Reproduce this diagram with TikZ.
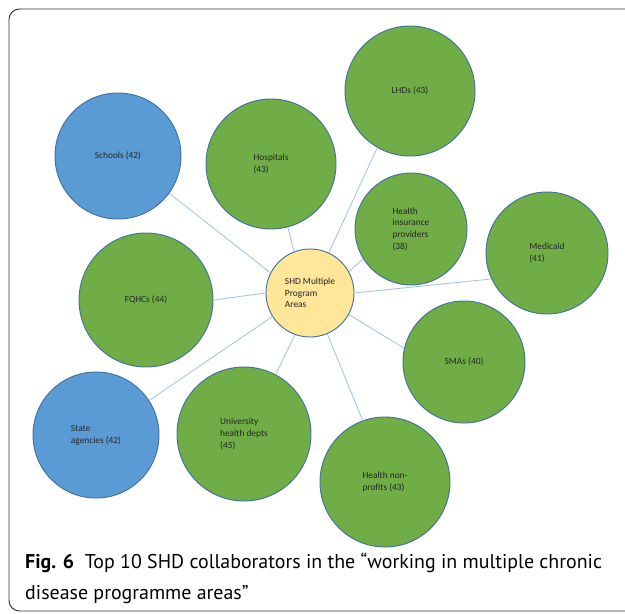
\documentclass[tikz,border=0pt]{standalone}
\usepackage{fontspec}
\newfontfamily\carlito{Carlito}
\newfontfamily\capfont{PT Sans}
\definecolor{orggreen}{HTML}{70AD47}
\definecolor{orgblue}{HTML}{5B9BD5}
\definecolor{orgyellow}{HTML}{FFE699}
\definecolor{orgline}{HTML}{41719C}
\definecolor{linkblue}{HTML}{9DC3E6}

\begin{document}
\begin{tikzpicture}[x=0.03cm,y=-0.03cm,
  org/.style={circle,draw=orgline,line width=0.8pt,align=left,inner sep=0pt,
    text=black!85,font=\carlito\fontsize{8}{9.9}\selectfont},
  grp/.style={org,fill=orggreen},
  agency/.style={org,fill=orgblue},
  hub/.style={org,fill=orgyellow},
  link/.style={draw=linkblue,line width=0.7pt}]
\useasboundingbox (0,0) rectangle (625,613);
\draw[black!80,line width=0.8pt,rounded corners=9pt] (9,611) rectangle (660,9);
% centre and collaborators
\node[hub,minimum size=2.64cm] (shd) at (310,293) {SHD Multiple\\Program\\Areas};
\node[agency,minimum size=3.78cm] (schools) at (118,156) {Schools (42)};
\node[grp,minimum size=3.9cm] (hosp) at (271,164) {Hospitals\\(43)};
\node[grp,minimum size=3.9cm] (lhd) at (410,91) {LHDs (43)};
\node[grp,minimum size=3.36cm] (insur) at (411,229) {Health\\insurance\\providers\\(38)};
\node[grp,minimum size=3.66cm] (medicaid) at (547,253) {Medicaid\\(41)};
\node[grp,minimum size=4.02cm] (fqhc) at (146,300) {FQHCs (44)};
\node[grp,minimum size=3.66cm] (sma) at (464,362) {SMAs (40)};
\node[agency,minimum size=3.78cm] (state) at (96,435) {State\\agencies (42)};
\node[grp,minimum size=4.02cm] (univ) at (244,434) {University\\health depts\\(45)};
\node[grp,minimum size=3.9cm] (nonprofit) at (385,482) {Health non-\\profits (43)};
% links, hub angle / collaborator angle
\foreach \n/\a/\b in {schools/153/324,hosp/111/285,lhd/65/240,insur/29/212,
    medicaid/0/205,fqhc/180/0,sma/331/167,state/212/33,univ/250/62,nonprofit/293/110}
  \draw[link] (shd.\a) -- (\n.\b);
% caption
\node[anchor=base west,align=left,inner sep=0pt,font=\capfont\fontsize{17}{26}\selectfont] (cap) at (25,599)
  {\textbf{Fig. 6}\ \ Top 10 SHD collaborators in the “working in multiple chronic\\disease programme areas”};
\end{tikzpicture}
\end{document}
